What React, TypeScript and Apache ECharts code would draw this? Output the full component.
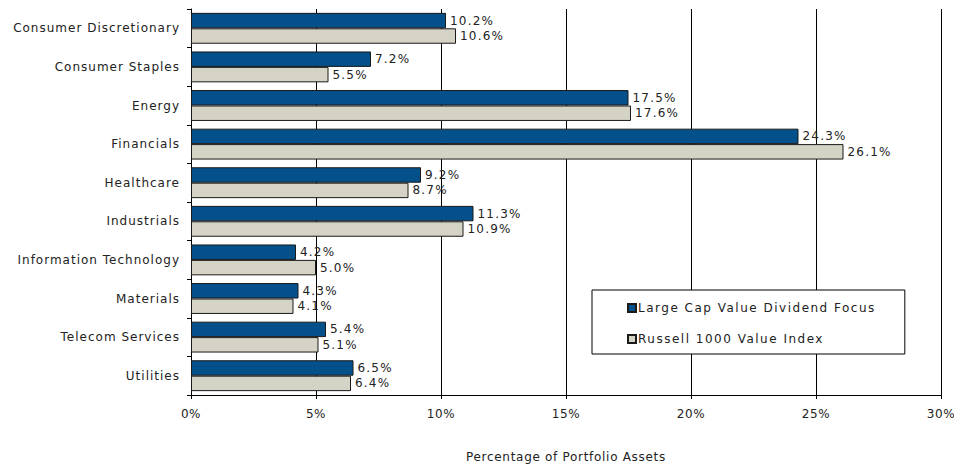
import React, { useEffect, useRef } from "react";
import * as echarts from "echarts";

const categories = [
  "Consumer Discretionary",
  "Consumer Staples",
  "Energy",
  "Financials",
  "Healthcare",
  "Industrials",
  "Information Technology",
  "Materials",
  "Telecom Services",
  "Utilities",
];
const fundValues = [10.2, 7.2, 17.5, 24.3, 9.2, 11.3, 4.2, 4.3, 5.4, 6.5];
const indexValues = [10.6, 5.5, 17.6, 26.1, 8.7, 10.9, 5.0, 4.1, 5.1, 6.4];
const seriesNames = ["Large Cap Value Dividend Focus", "Russell 1000 Value Index"];
const tickValues = [0, 5, 10, 15, 20, 25, 30];
const axisTitle = "Percentage of Portfolio Assets";

const FONT = "DejaVu Sans";
const TEXT = "#222";

function spacingFor(t: string): number {
  if (categories.includes(t)) return 1.0;
  if (seriesNames.includes(t)) return 1.5;
  if (t === axisTitle) return 0.7;
  if (/^\d+\.\d%$/.test(t)) return 1.2;
  if (/^\d+%$/.test(t)) return 0.6;
  return 0;
}

export default function App() {
  const ref = useRef<HTMLDivElement>(null);
  useEffect(() => {
    if (!ref.current) return;
    const el = ref.current;
    const chart = echarts.init(el, undefined, { renderer: "svg" });
    const label = {
      show: true,
      position: "right" as const,
      distance: 4,
      formatter: (p: any) => p.value.toFixed(1) + "%",
      color: TEXT,
      fontFamily: FONT,
      fontSize: 12,
    };
    chart.setOption({
      animation: false,
      textStyle: { fontFamily: FONT },
      grid: {
        left: 191,
        right: 13,
        top: 9,
        bottom: 70,
        containLabel: false,
        outerBoundsMode: "none",
      },
      xAxis: {
        type: "value",
        min: 0,
        max: 30,
        interval: 5,
        name: axisTitle,
        nameLocation: "middle",
        nameGap: 56,
        nameTextStyle: { color: TEXT, fontFamily: FONT, fontSize: 12 },
        axisLine: { show: true, lineStyle: { color: "#000", width: 1 } },
        axisTick: { show: true, length: 4, lineStyle: { color: "#000" } },
        axisLabel: {
          formatter: (v: number) => (tickValues.includes(v) ? v + "%" : ""),
          color: TEXT,
          fontFamily: FONT,
          fontSize: 12,
          margin: 13,
        },
        splitLine: { show: true, lineStyle: { color: "#000", width: 1 } },
      },
      yAxis: {
        type: "category",
        data: categories,
        inverse: true,
        axisLine: { show: true, lineStyle: { color: "#000", width: 1 } },
        axisTick: { show: true, length: 4, lineStyle: { color: "#000" } },
        axisLabel: { color: TEXT, fontFamily: FONT, fontSize: 12, margin: 11 },
      },
      legend: {
        orient: "vertical",
        left: 592,
        top: 290,
        data: seriesNames,
        icon: "rect",
        itemWidth: 8,
        itemHeight: 8,
        itemGap: 19,
        padding: [12, 74, 9, 35],
        borderColor: "#000",
        borderWidth: 1,
        backgroundColor: "#fff",
        textStyle: { color: TEXT, fontFamily: FONT, fontSize: 12, padding: [0, 0, 0, -3] },
      },
      series: [
        {
          name: seriesNames[0],
          type: "bar",
          data: fundValues,
          barGap: "0%",
          barCategoryGap: "20%",
          itemStyle: { color: "#03508A", borderColor: "#1a1a1a", borderWidth: 1 },
          label,
        },
        {
          name: seriesNames[1],
          type: "bar",
          data: indexValues,
          barGap: "0%",
          barCategoryGap: "20%",
          itemStyle: { color: "#D5D3C6", borderColor: "#1a1a1a", borderWidth: 1 },
          label,
        },
      ],
    });
    const applySpacing = () => {
      el.querySelectorAll("text").forEach((node) => {
        const s = spacingFor((node.textContent || "").trim());
        if (s) node.setAttribute("letter-spacing", String(s));
      });
    };
    applySpacing();
    chart.on("finished", applySpacing);
    return () => chart.dispose();
  }, []);
  return (
    <div
      ref={ref}
      style={{ position: "absolute", left: 0, top: 0, width: 954, height: 465, background: "#fff" }}
    />
  );
}
